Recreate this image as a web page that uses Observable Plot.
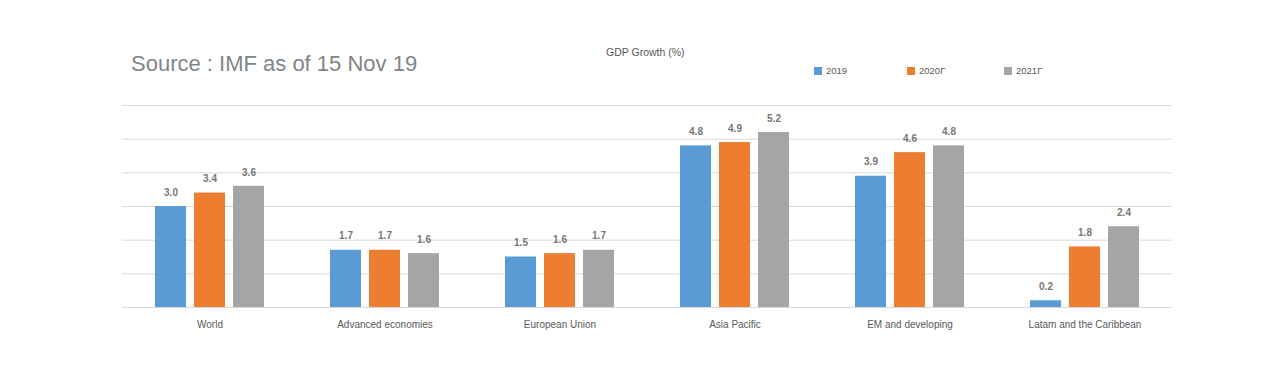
<!DOCTYPE html>
<html>
<head>
<meta charset="utf-8">
<script src="https://cdn.jsdelivr.net/npm/d3@7"></script>
<script src="https://cdn.jsdelivr.net/npm/@observablehq/plot@0.6"></script>
<style>
  body { margin: 0; background: #fff; }
  #wrap { position: relative; width: 1278px; height: 368px; font-family: "Liberation Sans", Arial, sans-serif; }
  #title { position: absolute; left: 131px; top: 51px; font-size: 22px; color: #7f8589; white-space: nowrap; }
  #subtitle { position: absolute; left: 606px; top: 46px; font-size: 10.5px; color: #595959; white-space: nowrap; }
  .leg { position: absolute; top: 65px; font-size: 9.5px; color: #595959; white-space: nowrap; display: flex; align-items: center; }
  .sw { width: 8px; height: 8px; display: inline-block; margin-right: 4px; }
  #chart { position: absolute; left: 0; top: 0; }
</style>
</head>
<body>
<div id="wrap">
  <div id="chart"></div>
  <div id="title"></div>
  <div id="subtitle"></div>
  <div id="legend"></div>
</div>
<script>
const titleText = "Source : IMF as of 15 Nov 19";
const subtitleText = "GDP Growth (%)";
const categories = ["World", "Advanced economies", "European Union", "Asia Pacific", "EM and developing", "Latam and the Caribbean"];
const series = ["2019", "2020Г", "2021Г"];
const colors = ["#5b9bd5", "#ed7d31", "#a5a5a5"];
const v2019 = [3.0, 1.7, 1.5, 4.8, 3.9, 0.2];
const v2020 = [3.4, 1.7, 1.6, 4.9, 4.6, 1.8];
const v2021 = [3.6, 1.6, 1.7, 5.2, 4.8, 2.4];
const gridTicks = [0, 1, 2, 3, 4, 5, 6];
const legendX = [814, 907, 1004];

const values = [v2019, v2020, v2021];
const data = [];
categories.forEach((c, i) => series.forEach((s, j) => data.push({category: c, series: s, value: values[j][i]})));

document.getElementById("title").textContent = titleText;
document.getElementById("subtitle").textContent = subtitleText;
const legend = document.getElementById("legend");
series.forEach((s, j) => {
  const d = document.createElement("div");
  d.className = "leg";
  d.style.left = legendX[j] + "px";
  d.innerHTML = `<span class="sw" style="background:${colors[j]}"></span>${s}`;
  legend.appendChild(d);
});

const chart = Plot.plot({
  width: 1278,
  height: 368,
  marginLeft: 122,
  marginRight: 106,
  marginTop: 105,
  marginBottom: 61,
  style: {fontFamily: "'Liberation Sans', Arial, sans-serif", fontSize: "10px", color: "#595959", background: "transparent"},
  fx: {domain: categories, padding: 0, label: null},
  x: {domain: series, paddingInner: 0.2, paddingOuter: 0.84, axis: null},
  y: {domain: [0, 6], axis: null},
  color: {domain: series, range: colors},
  marks: [
    Plot.ruleY(gridTicks, {stroke: "#d9d9d9", strokeWidth: 1}),
    Plot.barY(data, {fx: "category", x: "series", y: "value", fill: "series"}),
    Plot.text(data, {fx: "category", x: "series", y: "value", text: d => d.value.toFixed(1), dy: -14, fill: "#767676", fontSize: 10, fontWeight: 600, letterSpacing: "1px"}),
    Plot.axisFx({anchor: "bottom", tickSize: 0, tickPadding: 13, label: null, fontSize: 10, fill: "#595959"})
  ]
});
document.getElementById("chart").appendChild(chart);
</script>
</body>
</html>
